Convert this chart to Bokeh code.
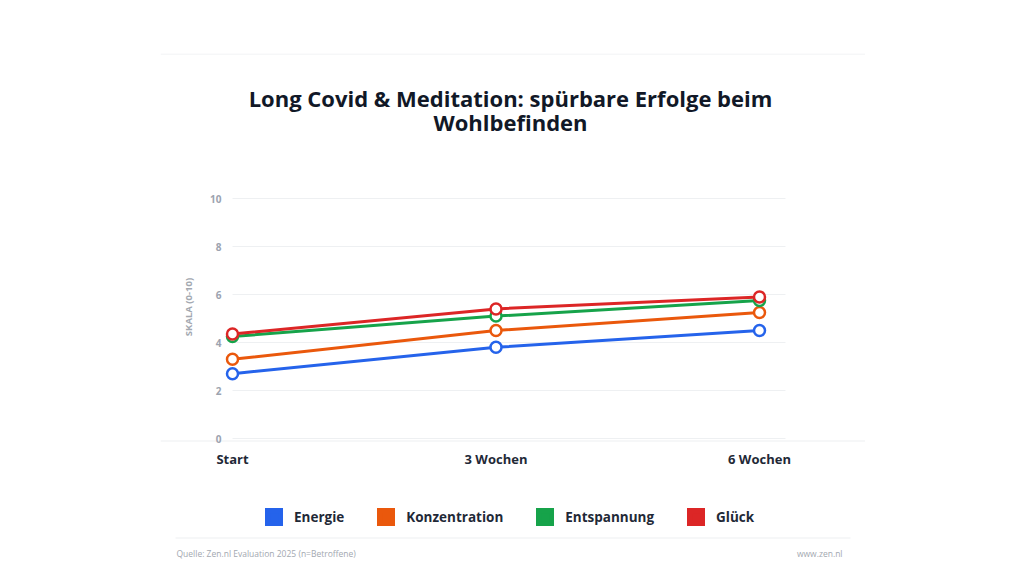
from bokeh.plotting import figure
from bokeh.models import FixedTicker, Label, Legend, LegendItem, Range1d
from bokeh.embed import file_html
from bokeh.resources import INLINE

# ---- data ----
steps = ["Start", "3 Wochen", "6 Wochen"]
energie = [2.7, 3.8, 4.5]
konzentration = [3.3, 4.5, 5.25]
entspannung = [4.25, 5.1, 5.75]
glueck = [4.35, 5.4, 5.9]
series_names = ["Energie", "Konzentration", "Entspannung", "Glück"]
series_values = [energie, konzentration, entspannung, glueck]
colors = ["#2563eb", "#ea580c", "#16a34a", "#dc2626"]
y_ticks = [0, 2, 4, 6, 8, 10]
title_lines = ["Long Covid & Meditation: spürbare Erfolge beim", "Wohlbefinden"]
y_label = "SKALA (0-10)"
source_text = "Quelle: Zen.nl Evaluation 2025 (n=Betroffene)"
site_text = "www.zen.nl"

FONT = "Open Sans"
SEP = "#eef0f2"
xs = list(range(len(steps)))

# page-pixel layout of the card (frame covers the whole card)
CARD_L, CARD_R, CARD_T, CARD_B = 160, 865, 53, 560
X0_PX, X_UNIT = 232, 263.5      # x of "Start", px per step
Y0_PX, Y_UNIT = 438, 24.0       # y of value 0, px per unit


def dx(px):
    return (px - X0_PX) / X_UNIT


def dy(py):
    return (Y0_PX - py) / Y_UNIT


p = figure(frame_width=CARD_R - CARD_L, frame_height=CARD_B - CARD_T,
           x_range=Range1d(dx(CARD_L), dx(CARD_R)),
           y_range=Range1d(dy(CARD_B), dy(CARD_T)),
           output_backend="svg", toolbar_location=None,
           min_border_left=CARD_L, min_border_top=CARD_T,
           min_border_right=0, min_border_bottom=5)
p.outline_line_color = None
p.background_fill_color = "white"
p.border_fill_color = "white"
p.grid.visible = False

# horizontal grid lines (span from first step to a bit past the last)
grid_right = dx(785)
p.segment(x0=[0] * len(y_ticks), x1=[grid_right] * len(y_ticks), y0=y_ticks, y1=y_ticks,
          line_color=SEP, line_width=1)

# y axis (labels pulled inside the card)
p.yaxis.ticker = FixedTicker(ticks=y_ticks)
p.yaxis.axis_line_color = None
p.yaxis.major_tick_line_color = None
p.yaxis.minor_tick_line_color = None
p.yaxis.major_tick_out = 0
p.yaxis.minor_tick_out = 0
p.yaxis.major_label_text_font = FONT
p.yaxis.major_label_text_font_style = "bold"
p.yaxis.major_label_text_font_size = "10px"
p.yaxis.major_label_text_color = "#9ca3af"
p.yaxis.major_label_standoff = -(221 - CARD_L)
p.yaxis.axis_label = y_label
p.yaxis.axis_label_text_font = FONT
p.yaxis.axis_label_text_font_style = "bold"
p.yaxis.axis_label_text_font_size = "9.5px"
p.yaxis.axis_label_text_color = "#a3a8b0"
p.yaxis.axis_label_standoff = 12

# x axis (labels pulled up under the plot area)
p.xaxis.ticker = FixedTicker(ticks=xs)
p.xaxis.major_label_overrides = {i: s for i, s in enumerate(steps)}
p.xaxis.axis_line_color = None
p.xaxis.major_tick_line_color = None
p.xaxis.minor_tick_line_color = None
p.xaxis.major_tick_out = 0
p.xaxis.minor_tick_out = 0
p.xaxis.major_label_text_font = FONT
p.xaxis.major_label_text_font_style = "bold"
p.xaxis.major_label_text_font_size = "13px"
p.xaxis.major_label_text_color = "#1f2937"
p.xaxis.major_label_standoff = -(CARD_B - 449)

# series
for vals, c in zip(series_values, colors):
    p.line(xs, vals, line_width=3, line_color=c, line_join="round")
    p.scatter(xs, vals, size=11, fill_color="white", line_color=c, line_width=2.5)

# separators
for (l, r, py) in [(CARD_L, CARD_R, 53), (CARD_L, CARD_R, 440), (175, 850, 537)]:
    p.quad(left=[dx(l)], right=[dx(r)], top=[dy(py)], bottom=[dy(py + 1)],
           fill_color=SEP, line_color=None)

# title
for line, py in zip(title_lines, [97, 121.5]):
    p.add_layout(Label(x=dx(510), y=dy(py), text=line, text_align="center",
                       text_baseline="middle", text_font=FONT,
                       text_font_style="bold", text_font_size="22px",
                       text_color="#111827"))

# legend with swatch-only renderers (NaN position: nothing drawn in the plot)
nan = float("nan")
items = []
for name, c in zip(series_names, colors):
    r = p.rect(x=[nan], y=[nan], width=1, height=1, fill_color=c, line_color=c,
               line_width=6, line_join="round")
    items.append(LegendItem(label=name, renderers=[r], index=0))
legend = Legend(items=items, orientation="horizontal",
                location=(265 - CARD_L, CARD_B - 526),
                glyph_width=18, glyph_height=18, label_height=18,
                label_standoff=11, spacing=33, padding=0, margin=0,
                background_fill_alpha=0, border_line_color=None,
                label_text_font=FONT, label_text_font_style="bold",
                label_text_font_size="13.5px", label_text_color="#1f2937")
p.add_layout(legend)

# footer
p.add_layout(Label(x=dx(176), y=dy(553), text=source_text, text_align="left",
                   text_baseline="middle", text_font=FONT, text_font_size="8.5px",
                   text_color="#a3a8b0"))
p.add_layout(Label(x=dx(842), y=dy(553), text=site_text, text_align="right",
                   text_baseline="middle", text_font=FONT, text_font_size="8.5px",
                   text_color="#a3a8b0"))

open("out.html", "w").write(file_html(p, INLINE))
